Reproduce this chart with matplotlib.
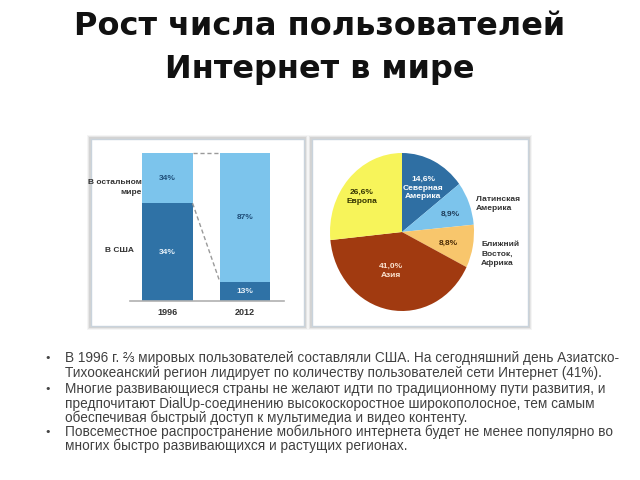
import matplotlib
matplotlib.use("Agg")
import matplotlib.pyplot as plt
from matplotlib.patches import Rectangle

# ---- data ----
years = ["1996", "2012"]
us_share = [66, 13]
rest_share = [34, 87]
us_labels = ["34%", "13%"]
rest_labels = ["34%", "87%"]
bar_row_labels = ["В остальном\nмире", "В США"]

regions = ["Северная\nАмерика", "Латинская\nАмерика", "Ближний\nВосток,\nАфрика", "Азия", "Европа"]
region_share = [14.6, 8.9, 8.8, 41.0, 26.6]
region_pct = ["14,6%", "8,9%", "8,8%", "41,0%", "26,6%"]

title_lines = ["Рост числа пользователей", "Интернет в мире"]
bullets = [
    ["В 1996 г. ⅔ мировых пользователей составляли США. На сегодняшний день Азиатско-",
     "Тихоокеанский регион лидирует по количеству пользователей сети Интернет (41%)."],
    ["Многие развивающиеся страны не желают идти по традиционному пути развития, и",
     "предпочитают DialUp-соединению высокоскоростное широкополосное, тем самым",
     "обеспечивая быстрый доступ к мультимедиа и видео контенту."],
    ["Повсеместное распространение мобильного интернета будет не менее популярно во",
     "многих быстро развивающихся и растущих регионах."],
]

W, H = 640, 480
fig = plt.figure(figsize=(6.4, 4.8), dpi=100)
fig.patch.set_facecolor("white")

def fx(x):
    return x / W

def fy(y):
    return 1 - y / H

def box(l, t, r, b):
    return [fx(l), fy(b), fx(r) - fx(l), fy(t) - fy(b)]

# ---- title ----
tfont = ["DejaVu Sans"]
fig.text(0.5, fy(35), title_lines[0], ha="center", va="baseline", fontsize=23,
         fontweight="bold", family=tfont, color="#111111")
fig.text(0.5, fy(78), title_lines[1], ha="center", va="baseline", fontsize=23,
         fontweight="bold", family=tfont, color="#111111")

# ---- panels (frames with soft shadow) ----
def panel(l, t, r, b):
    for i, a in enumerate([0.04, 0.06, 0.08]):
        d = 4 - i
        fig.patches.append(Rectangle((fx(l - d), fy(b + d)), fx(r + d) - fx(l - d), fy(t - d) - fy(b + d),
                                     transform=fig.transFigure, facecolor="black", alpha=a,
                                     edgecolor="none", zorder=0))
    fig.patches.append(Rectangle((fx(l), fy(b)), fx(r) - fx(l), fy(t) - fy(b),
                                 transform=fig.transFigure, facecolor="white",
                                 edgecolor="#c9d3dc", linewidth=1.0, zorder=1))

panel(91, 139, 304, 326)
panel(312, 139, 528, 326)

small = ["Liberation Sans", "DejaVu Sans"]
dark_blue = "#2f72a6"
light_blue = "#7cc4ec"

# ---- stacked bars ----
ax = fig.add_axes(box(130, 153, 284, 301))
ax.set_zorder(3)
x = [0, 1]
w = 0.65
ax.bar(x, us_share, width=w, color=dark_blue)
ax.bar(x, rest_share, width=w, bottom=us_share, color=light_blue)
ax.set_xlim(-0.48, 1.5)
ax.set_ylim(0, 100)
for s in ["top", "right", "left"]:
    ax.spines[s].set_visible(False)
ax.spines["bottom"].set_color("#b0b0b0")
ax.spines["bottom"].set_linewidth(1.2)
ax.set_yticks([])
ax.set_xticks(x)
ax.set_xticklabels(years, fontsize=6.5, fontweight="bold", family=small, color="#333333")
ax.tick_params(axis="x", length=0, pad=5)
for i in range(2):
    ax.text(x[i], us_share[i] / 2, us_labels[i], ha="center", va="center",
            fontsize=6, fontweight="bold", family=small, color="#e8f2fa")
    ax.text(x[i], us_share[i] + rest_share[i] / 2, rest_labels[i], ha="center", va="center",
            fontsize=6, fontweight="bold", family=small, color="#1f4e79")
ax.plot([x[0] + w / 2, x[1] - w / 2], [us_share[0] + rest_share[0], us_share[1] + rest_share[1]],
        ls=(0, (3, 2)), color="#9a9a9a", lw=1, clip_on=False)
ax.plot([x[0] + w / 2, x[1] - w / 2], [us_share[0], us_share[1]],
        ls=(0, (3, 2)), color="#9a9a9a", lw=1, clip_on=False)
fig.text(fx(142), fy(188), bar_row_labels[0], ha="right", va="center", fontsize=6,
         fontweight="bold", family=small, color="#333333", linespacing=1.6, zorder=4)
fig.text(fx(119), fy(251), bar_row_labels[1], ha="center", va="center", fontsize=6,
         fontweight="bold", family=small, color="#333333", zorder=4)

# ---- pie ----
pax = fig.add_axes(box(330, 153, 474, 311))
pax.set_zorder(3)
pie_colors = ["#2f6fa3", "#7cc4ec", "#f8c66c", "#a13a10", "#f7f45a"]
pax.pie(region_share, colors=pie_colors, startangle=90, counterclock=False,
        wedgeprops=dict(linewidth=0))
pax.set_aspect("auto")
pax.set_xlim(-1, 1)
pax.set_ylim(-1, 1)
pax.axis("off")

def pt(px, py):
    return fx(px), fy(py)

fig.text(*pt(423, 188), region_pct[0] + "\n" + regions[0], ha="center", va="center",
         fontsize=6, fontweight="bold", family=small, color="white", zorder=5, linespacing=1.3)
fig.text(*pt(450, 214), region_pct[1], ha="center", va="center",
         fontsize=6, fontweight="bold", family=small, color="#1f3d5a", zorder=5)
fig.text(*pt(448, 243), region_pct[2], ha="center", va="center",
         fontsize=6, fontweight="bold", family=small, color="#4a2a05", zorder=5)
fig.text(*pt(391, 271), region_pct[3] + "\n" + regions[3], ha="center", va="center",
         fontsize=6, fontweight="bold", family=small, color="#fbe3d0", zorder=5, linespacing=1.3)
fig.text(*pt(362, 197), region_pct[4] + "\n" + regions[4], ha="center", va="center",
         fontsize=6, fontweight="bold", family=small, color="#333300", zorder=5, linespacing=1.3)
fig.text(*pt(476, 204), regions[1], ha="left", va="center",
         fontsize=6, fontweight="bold", family=small, color="#333333", zorder=5, linespacing=1.5)
fig.text(*pt(481, 254), regions[2], ha="left", va="center",
         fontsize=6, fontweight="bold", family=small, color="#333333", zorder=5, linespacing=1.5)

# ---- bullets ----
bfont = ["Liberation Sans", "DejaVu Sans"]
line_y = [[358, 373], [389, 404, 418], [432, 446]]
for para, ys in zip(bullets, line_y):
    fig.text(fx(48), fy(ys[0]), "•", ha="center", va="center", fontsize=8, color="#444444",
             family=["DejaVu Sans"])
    for line, yy in zip(para, ys):
        fig.text(fx(65), fy(yy), line, ha="left", va="center", fontsize=9.8,
                 family=bfont, color="#404040")

fig.savefig("out.png", dpi=100, facecolor="white")
